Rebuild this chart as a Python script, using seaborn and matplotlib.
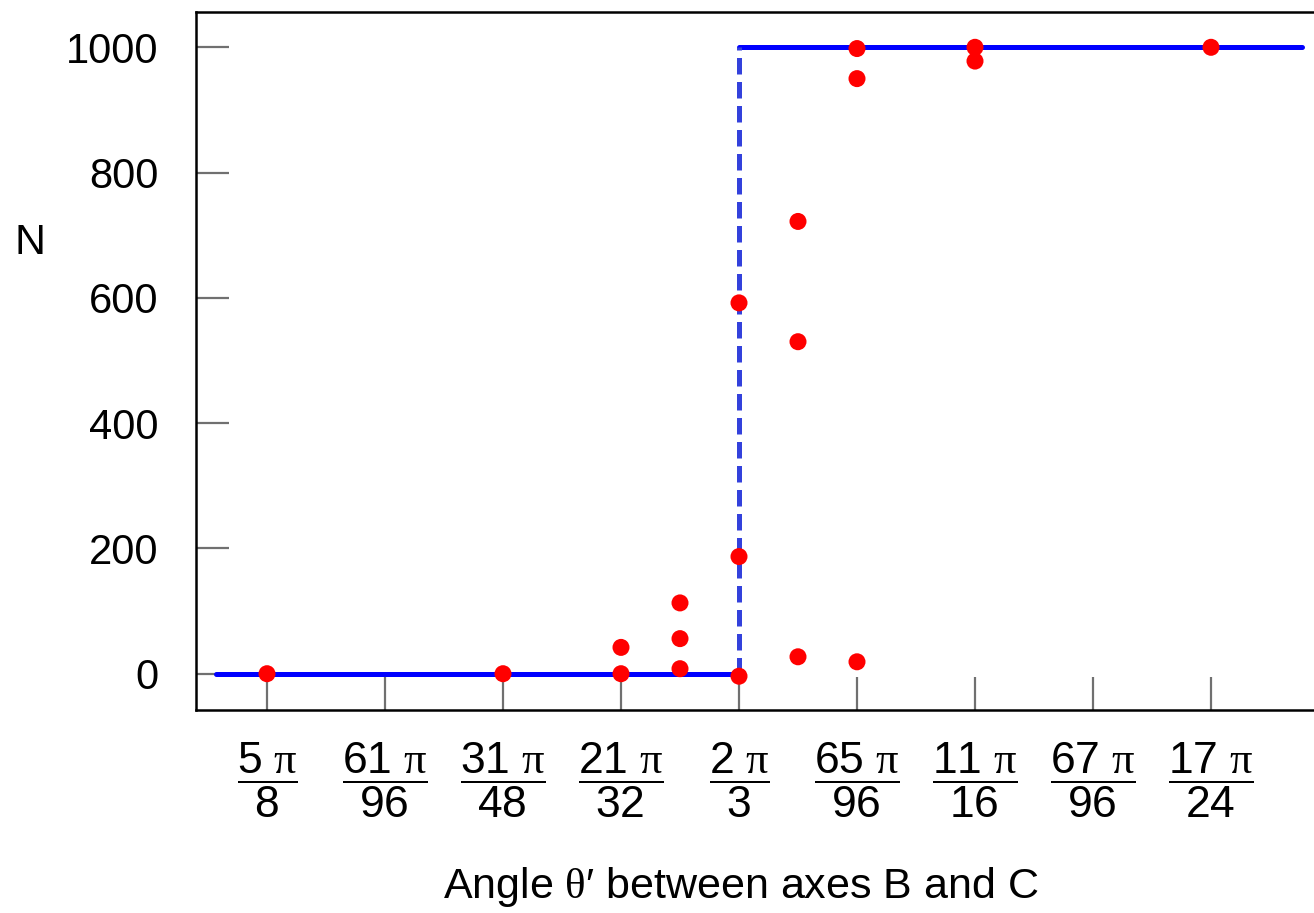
import matplotlib
matplotlib.use("Agg")
import matplotlib.pyplot as plt
import seaborn as sns
import pandas as pd

# x in units of pi/96
pt_x = [60, 62, 63, 63, 63.5, 63.5, 63.5, 64, 64, 64, 64.5, 64.5, 64.5, 65, 65, 65, 66, 66, 68]
pt_n = [0, 0, 42, 0, 113, 56, 8, 592, 187, -4, 722, 530, 27, 998, 950, 19, 1000, 978, 1000]

low_x = [59.57, 64]
low_n = [0, 0]
step_x = [64, 64]
step_n = [0, 1000]
high_x = [64, 68.77]
high_n = [1000, 1000]

tick_pos = [60, 61, 62, 63, 64, 65, 66, 67, 68]
tick_num = ["5", "61", "31", "21", "2", "65", "11", "67", "17"]
tick_den = ["8", "96", "48", "32", "3", "96", "16", "96", "24"]
y_ticks = [0, 200, 400, 600, 800, 1000]

sns.set_theme(style="white")
plt.rcParams["font.family"] = ["Liberation Sans", "DejaVu Sans"]
plt.rcParams["mathtext.fontset"] = "custom"
plt.rcParams["mathtext.rm"] = "Liberation Sans"
plt.rcParams["mathtext.it"] = "Liberation Serif"
plt.rcParams["mathtext.sf"] = "Liberation Sans"

fig = plt.figure(figsize=(13.14, 9.13), dpi=100)
ax = fig.add_axes([196 / 1314, (913 - 710) / 913, 1 - 196 / 1314, (710 - 12) / 913])

sns.lineplot(x=low_x, y=low_n, ax=ax, color="#0000ff", lw=3.6, sort=False, estimator=None)
sns.lineplot(x=high_x, y=high_n, ax=ax, color="#0000ff", lw=3.6, sort=False, estimator=None)
sns.lineplot(x=step_x, y=step_n, ax=ax, color="#3341dc", lw=3.6, sort=False, estimator=None)
ax.lines[-1].set_linestyle((0, (3.3, 1.5)))
ax.lines[-1].set_dash_capstyle("butt")
sns.scatterplot(x=pt_x, y=pt_n, ax=ax, color="#ff0000", s=150, edgecolor="none", zorder=5)

x0 = 60 + (196 - 267) / 118
x1 = 60 + (1314 - 267) / 118
ax.set_xlim(x0, x1)
ax.set_ylim((673.7 - 710) / 0.6264, (673.7 - 12) / 0.6264)

ax.set_xticks(tick_pos)
ax.set_xticklabels([r"$\dfrac{%s\ \pi}{%s}$" % (n, d) for n, d in zip(tick_num, tick_den)])
ax.set_yticks(y_ticks)
ax.set_yticklabels([str(v) for v in y_ticks])

ax.tick_params(axis="both", direction="in", length=24, width=1.6, color="#707070",
               labelcolor="black", bottom=True, left=True, top=False, right=False)
ax.tick_params(axis="y", pad=27, labelsize=30)
ax.tick_params(axis="x", pad=22, labelsize=32)

for s in ["left", "top", "bottom"]:
    ax.spines[s].set_color("black")
    ax.spines[s].set_linewidth(1.8)
ax.spines["right"].set_visible(False)

ax.set_xlabel(r"Angle $\theta$′ between axes B and C", fontsize=31, color="black")
ax.xaxis.set_label_coords((741 - 196) / 1118, -(887 - 710) / 698)
ax.xaxis.label.set_va("center")
ax.set_ylabel("N", fontsize=31, rotation=0, color="black")
ax.yaxis.set_label_coords((30 - 196) / 1118, (710 - 243) / 698)
ax.yaxis.label.set_va("center")
ax.yaxis.label.set_ha("center")

fig.savefig("out.png", dpi=100)
